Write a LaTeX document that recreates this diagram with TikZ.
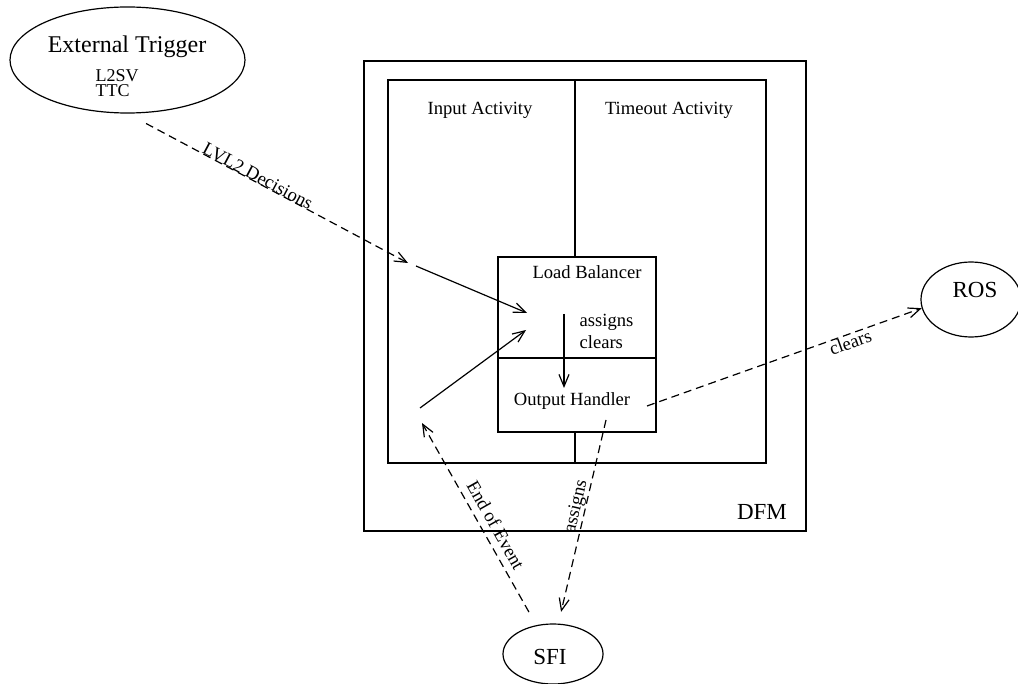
\documentclass[tikz,border=0pt]{standalone}
\usepackage{fontspec}
\setmainfont{Liberation Serif}
\usetikzlibrary{arrows.meta,shapes.geometric}
\begin{document}
\begin{tikzpicture}[x=0.5pt,y=-0.5pt,line width=0.6pt,
  every node/.style={font=\fontsize{9.3}{11}\selectfont},
  big/.style={font=\fontsize{11.5}{13}\selectfont},
  txt/.style={inner sep=0pt},
  oval/.style={draw,ellipse,inner sep=0pt},
  box/.style={draw,rectangle,inner sep=0pt},
  flow/.style={-{Straight Barb[length=6pt,width=5pt]}},
  msg/.style={flow,dash pattern=on 4pt off 2.5pt}]
\useasboundingbox (0,0) rectangle (1018,684);

% external trigger
\node[oval,minimum width=117.5pt,minimum height=53pt] (ext) at (127.5,60) {};
\node[txt,anchor=base,font=\fontsize{12}{14}\selectfont] (extname) at (127,53) {External Trigger};
\node[txt,anchor=base west,font=\fontsize{9}{11}\selectfont] (l2sv) at (95,82) {L2SV};
\node[txt,anchor=base west,font=\fontsize{9}{11}\selectfont] (ttc) at (95,97) {TTC};

% DFM with its two activities
\node[box,minimum width=221pt,minimum height=235pt] (dfm) at (585,296) {};
\node[txt,big,anchor=base] (dfmname) at (762,519) {DFM};
\node[box,minimum width=189pt,minimum height=191.5pt] (act) at (577,271.5) {};
\node[txt,anchor=base] (inact) at (480,115) {Input Activity};
\node[txt,anchor=base] (toact) at (669,115) {Timeout Activity};

% load balancer / output handler
\node[box,fill=white,minimum width=79pt,minimum height=87.5pt] (lb) at (577,344.5) {};
\draw (575,80) -- (575,257);
\draw (575,432) -- (575,463);
\draw (498,358) -- (656,358);
\node[txt,anchor=base] (lbname) at (587,279) {Load Balancer};
\node[txt,anchor=base west] (lbassigns) at (579,327) {assigns};
\node[txt,anchor=base west] (lbclears) at (579,349) {clears};
\node[txt,anchor=base] (ohname) at (572,406) {Output Handler};

% ROS and SFI
\node[oval,minimum width=50pt,minimum height=37.5pt] (ros) at (971,299.5) {};
\node[txt,big,anchor=base] (rosname) at (975,298) {ROS};
\node[oval,minimum width=50pt,minimum height=30pt] (sfi) at (553,654) {};
\node[txt,big,anchor=base] (sfiname) at (550,664) {SFI};

% connector end points
\coordinate (lvlEnd) at (408,263);
\coordinate (lbInA) at (416,266);
\coordinate (lbA) at (527,313);
\coordinate (eoeIn) at (420,408);
\coordinate (lbB) at (526,330);
\coordinate (asgTop) at (564,314);
\coordinate (asgBot) at (564,388);
\coordinate (eoeTip) at (422,423);
\coordinate (ohDown) at (606,420);
\coordinate (ohRight) at (647,406);

% connectors
\draw[msg,shorten <=10.5pt] (ext.south) -- node[pos=0.455,sloped,anchor=base] {LVL2 Decisions} (lvlEnd);
\draw[flow] (lbInA) -- (lbA);
\draw[flow] (eoeIn) -- (lbB);
\draw[flow] (asgTop) -- (asgBot);
\draw[msg,shorten <=7.5pt] (sfi.120) -- node[pos=0.46,sloped,above] {End of Event} (eoeTip);
\draw[msg,shorten >=6pt] (ohDown) -- node[pos=0.436,sloped,above,inner sep=0pt] {assigns} (sfi.80);
\draw[msg] (ohRight) -- node[pos=0.73,sloped,below,inner sep=0.5pt] {clears} (ros.190);
\end{tikzpicture}
\end{document}
